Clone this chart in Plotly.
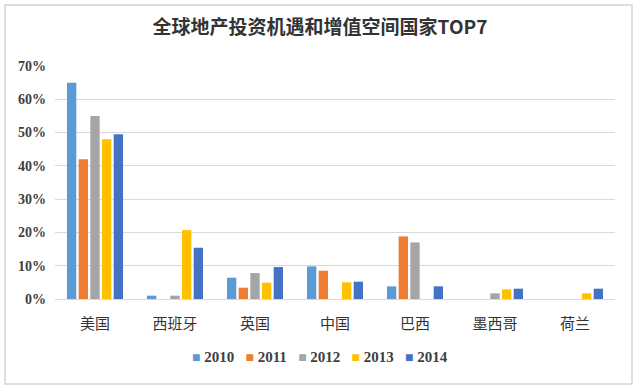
import plotly.graph_objects as go

categories = ["美国", "西班牙", "英国", "中国", "巴西", "墨西哥", "荷兰"]
years = ["2010", "2011", "2012", "2013", "2014"]
v2010 = [0.65, 0.010, 0.064, 0.098, 0.038, None, None]
v2011 = [0.42, None, 0.034, 0.085, 0.188, None, None]
v2012 = [0.55, 0.010, 0.078, None, 0.170, 0.017, None]
v2013 = [0.48, 0.207, 0.049, 0.050, None, 0.029, 0.017]
v2014 = [0.495, 0.154, 0.096, 0.052, 0.038, 0.031, 0.031]
series = [v2010, v2011, v2012, v2013, v2014]
colors = ["#5B9BD5", "#ED7D31", "#A5A5A5", "#FFC000", "#4472C4"]
y_ticks = [0, 0.1, 0.2, 0.3, 0.4, 0.5, 0.6, 0.7]
y_ticklabels = ["0%", "10%", "20%", "30%", "40%", "50%", "60%", "70%"]

fig = go.Figure()
for name, vals, c in zip(years, series, colors):
    fig.add_trace(go.Bar(name=name, x=categories, y=vals, marker_color=c,
                         marker_line_width=0, showlegend=False))

W, H = 640, 388
L, R, T, B = 55, 25, 66, 89
pw, ph = W - L - R, H - T - B

def px_x(x):
    return (x - L) / pw

def px_y(y):
    return (H - B - y) / ph

legend_text = "&nbsp;&nbsp;&nbsp;".join(
    f"<span style='color:{c}; font-size:14px'>■</span> {y}" for y, c in zip(years, colors))

fig.update_layout(
    template="none",
    width=W, height=H,
    margin=dict(l=L, r=R, t=T, b=B, autoexpand=False),
    paper_bgcolor="white", plot_bgcolor="white",
    barmode="group", bargap=0.27, bargroupgap=0.2,
    font=dict(family="Noto Sans CJK SC", color="#404040"),
    title=dict(text="<b>全球地产投资机遇和增值空间国家TOP7</b>",
               x=0.5, xanchor="center", y=1 - 27 / H, yanchor="middle",
               font=dict(size=19, color="#333333", family="Noto Sans CJK SC")),
    showlegend=False,
    xaxis=dict(showgrid=False, showline=False, ticks="", automargin=False,
               tickfont=dict(size=15, color="#333333", family="Noto Sans CJK SC"),
               ticklabelstandoff=14),
    yaxis=dict(range=[0, 0.70], tickvals=y_ticks, ticktext=y_ticklabels,
               automargin=False,
               showgrid=True, gridcolor="#d9d9d9", gridwidth=1,
               zeroline=True, zerolinecolor="#d9d9d9", zerolinewidth=1,
               showline=False, ticks="",
               tickfont=dict(size=14, color="#404040", family="Liberation Serif", weight="bold"),
               ticklabelstandoff=8),
    annotations=[dict(text=legend_text, xref="paper", yref="paper",
                      x=px_x(320), y=px_y(357), xanchor="center", yanchor="middle",
                      showarrow=False,
                      font=dict(size=15, color="#404040", family="Liberation Serif", weight="bold"))],
    shapes=[dict(type="rect", xref="paper", yref="paper",
                 x0=px_x(5), x1=px_x(632), y0=px_y(384), y1=px_y(5),
                 line=dict(color="#d4d4d4", width=1.5), layer="below")],
)

fig.write_html("out.html", config={"displayModeBar": False},
               post_script="document.body.style.margin='0';document.body.style.overflow='hidden';")
